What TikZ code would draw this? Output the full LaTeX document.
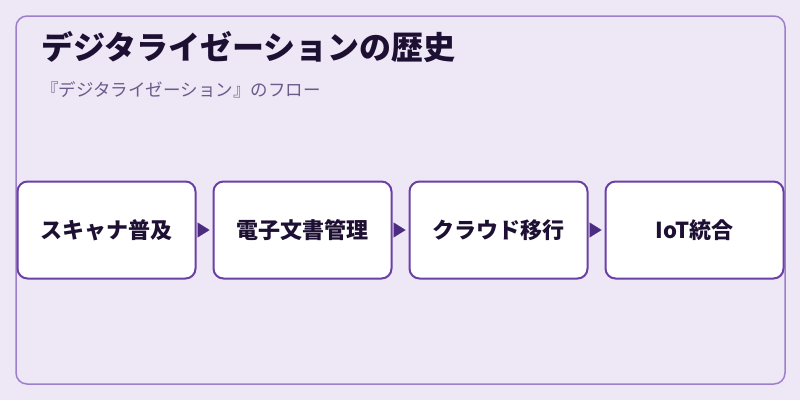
\documentclass[tikz,border=0pt]{standalone}
\usepackage{fontspec}
\setmainfont{Noto Sans CJK JP}
\usetikzlibrary{arrows.meta,positioning}

\definecolor{bgLav}{HTML}{EDE7F6}
\definecolor{frameLav}{HTML}{9C80CC}
\definecolor{boxEdge}{HTML}{6B40A6}
\definecolor{tipFill}{HTML}{4B2C80}
\definecolor{titleInk}{HTML}{1E1033}
\definecolor{subInk}{HTML}{6B5B8B}

\begin{document}
\begin{tikzpicture}[%
    x=1pt, y=-1pt,
    >={Triangle[length=12pt,width=15pt]},
    node distance=196pt,
    on grid,
    stagebox/.style={draw=boxEdge, line width=2pt, fill=white,
      rounded corners=10pt, minimum width=178pt, minimum height=97pt,
      inner sep=0pt, font=\bfseries\fontsize{22}{26}\selectfont,
      text=titleInk},
    flow/.style={->, tipFill, line width=0.1pt,
      shorten <=2pt, shorten >=3pt}
  ]
  \fill[bgLav] (0,0) rectangle (800,400);
  \useasboundingbox (0,0) rectangle (800,400);
  \draw[frameLav, line width=1.5pt, rounded corners=11pt]
    (16,16) rectangle (785,384);

  \node[anchor=base west, inner sep=0pt, text=titleInk,
    font=\bfseries\fontsize{32}{36}\selectfont] (title) at (41,59)
    {デジタライゼーションの歴史};
  \node[anchor=base west, inner sep=0pt, text=subInk,
    font=\fontsize{17.5}{21}\selectfont] (sub) at (41,96)
    {『デジタライゼーション』のフロー};

  \node[stagebox] (scan) at (106.5,230) {スキャナ普及};
  \node[stagebox] (edoc) [right=of scan] {電子文書管理};
  \node[stagebox] (cloud) [right=of edoc] {クラウド移行};
  \node[stagebox] (iot) [right=of cloud] {IoT統合};

  \path[flow] (scan) edge (edoc);
  \path[flow] (edoc) edge (cloud);
  \path[flow] (cloud) edge (iot);

\end{tikzpicture}
\end{document}
